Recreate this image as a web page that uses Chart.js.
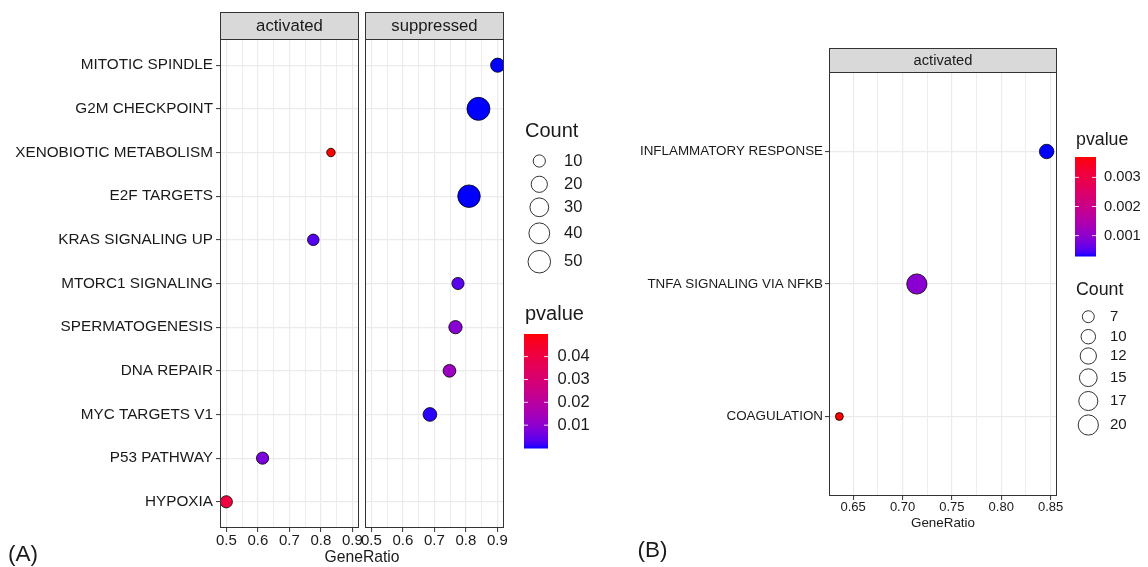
<!DOCTYPE html>
<html>
<head>
<meta charset="utf-8">
<title>Hallmark dotplot</title>
<script src="https://cdn.jsdelivr.net/npm/chart.js@4.4.1/dist/chart.umd.min.js"></script>
<style>
  html, body { margin: 0; padding: 0; background: #fff; }
  #wrap { position: relative; width: 1148px; height: 567px; overflow: hidden; }
  #wrap canvas { position: absolute; left: 0; top: 0; }
</style>
</head>
<body>
<div id="wrap">
  <canvas id="aActivated" width="1148" height="567"></canvas>
  <canvas id="aSuppressed" width="1148" height="567"></canvas>
  <canvas id="bActivated" width="1148" height="567"></canvas>
</div>
<script>
// ---------- panel (A) data, listed top to bottom ----------
const pathwaysA = ['MITOTIC SPINDLE', 'G2M CHECKPOINT', 'XENOBIOTIC METABOLISM', 'E2F TARGETS',
  'KRAS SIGNALING UP', 'MTORC1 SIGNALING', 'SPERMATOGENESIS', 'DNA REPAIR',
  'MYC TARGETS V1', 'P53 PATHWAY', 'HYPOXIA'];
const directionA = ['suppressed', 'suppressed', 'activated', 'suppressed', 'activated', 'suppressed',
  'suppressed', 'suppressed', 'suppressed', 'activated', 'activated'];
const geneRatioA = [0.901, 0.840, 0.832, 0.810, 0.776, 0.775, 0.767, 0.748, 0.686, 0.615, 0.500];
const countA = [14, 53, 7, 50, 9, 10, 12, 11, 13, 10, 10];
const pvalueA = [0.00001, 0.00001, 0.0499, 0.00002, 0.0032, 0.0036, 0.0092, 0.0128, 0.0008, 0.0072, 0.0410];
const facetsA = ['activated', 'suppressed'];
const xTicksA = [0.5, 0.6, 0.7, 0.8, 0.9];
const xTickLabelsA = ['0.5', '0.6', '0.7', '0.8', '0.9'];
const countBreaksA = [10, 20, 30, 40, 50];
const countLabelsA = ['10', '20', '30', '40', '50'];
const pvalueBreaksA = [0.01, 0.02, 0.03, 0.04];
const pvalueLabelsA = ['0.01', '0.02', '0.03', '0.04'];

// ---------- panel (B) data ----------
const pathwaysB = ['INFLAMMATORY RESPONSE', 'TNFA SIGNALING VIA NFKB', 'COAGULATION'];
const directionB = ['activated', 'activated', 'activated'];
const geneRatioB = [0.846, 0.7145, 0.636];
const countB = [10, 20, 6];
const pvalueB = [0.0003, 0.00095, 0.0037];
const xTicksB = [0.65, 0.70, 0.75, 0.80, 0.85];
const xTickLabelsB = ['0.65', '0.70', '0.75', '0.80', '0.85'];
const countBreaksB = [7.5, 10, 12.5, 15, 17.5, 20];
const countLabelsB = ['7', '10', '12', '15', '17', '20'];
const pvalueBreaksB = [0.001, 0.002, 0.003];
const pvalueLabelsB = ['0.001', '0.002', '0.003'];

const W = 1148, H = 567;
const FONT = "'Liberation Sans', Arial, Helvetica, sans-serif";
const INK = '#1a1a1a';

// ---- colour: ggplot style gradient blue -> red, interpolated in Lab ----
const WX = 0.95047, WY = 1.0, WZ = 1.08883;
function toLin(c) { c /= 255; return c <= 0.04045 ? c / 12.92 : Math.pow((c + 0.055) / 1.055, 2.4); }
function fromLin(c) {
  c = c <= 0.0031308 ? 12.92 * c : 1.055 * Math.pow(c, 1 / 2.4) - 0.055;
  return Math.round(Math.max(0, Math.min(1, c)) * 255);
}
function rgb2lab(rgb) {
  const R = toLin(rgb[0]), G = toLin(rgb[1]), B = toLin(rgb[2]);
  const X = (0.4124 * R + 0.3576 * G + 0.1805 * B) / WX;
  const Y = (0.2126 * R + 0.7152 * G + 0.0722 * B) / WY;
  const Z = (0.0193 * R + 0.1192 * G + 0.9505 * B) / WZ;
  const f = t => t > 0.008856 ? Math.cbrt(t) : 7.787 * t + 16 / 116;
  return [116 * f(Y) - 16, 500 * (f(X) - f(Y)), 200 * (f(Y) - f(Z))];
}
function lab2rgb(lab) {
  const fy = (lab[0] + 16) / 116, fx = fy + lab[1] / 500, fz = fy - lab[2] / 200;
  const inv = t => t > 0.206893 ? t * t * t : (t - 16 / 116) / 7.787;
  const X = WX * inv(fx), Y = WY * inv(fy), Z = WZ * inv(fz);
  const R = 3.2406 * X - 1.5372 * Y - 0.4986 * Z;
  const G = -0.9689 * X + 1.8758 * Y + 0.0415 * Z;
  const B = 0.0557 * X - 0.2040 * Y + 1.0570 * Z;
  return 'rgb(' + fromLin(R) + ',' + fromLin(G) + ',' + fromLin(B) + ')';
}
const LOW = rgb2lab([0, 0, 255]), HIGH = rgb2lab([255, 0, 0]);

function colourScale(pvals) {
  const lo = Math.min(...pvals), hi = Math.max(...pvals);
  const f = p => {
    const t = Math.max(0, Math.min(1, (p - lo) / (hi - lo)));
    return lab2rgb(LOW.map((v, i) => v + (HIGH[i] - v) * t));
  };
  f.lo = lo; f.hi = hi;
  return f;
}

// point diameter (px) from Count, area-like like scale_size
function sizeScale(counts, dMin, dMax) {
  const lo = Math.min(...counts), hi = Math.max(...counts);
  return c => dMin + (dMax - dMin) * Math.sqrt(Math.max(0, (c - lo) / (hi - lo)));
}

// 5% expansion on each side, as ggplot does
function expandRange(vals) {
  const lo = Math.min(...vals), hi = Math.max(...vals), e = (hi - lo) * 0.05;
  return [lo - e, hi + e];
}

function label(ctx, str, x, y, size, align) {
  ctx.font = size + 'px ' + FONT;
  ctx.fillStyle = INK;
  ctx.textAlign = align || 'left';
  ctx.textBaseline = 'middle';
  ctx.fillText(str, x, y);
}

function drawCountLegend(ctx, L, size, breaks, labels) {
  label(ctx, 'Count', L.x, L.titleY, L.titleSize);
  breaks.forEach((b, i) => {
    ctx.beginPath();
    ctx.arc(L.keyX, L.keyY[i], size(b) / 2 - 0.4, 0, Math.PI * 2);
    ctx.fillStyle = '#fff';
    ctx.fill();
    ctx.lineWidth = 0.8;
    ctx.strokeStyle = '#000';
    ctx.stroke();
    label(ctx, labels[i], L.labelX, L.keyY[i], L.labelSize);
  });
}

function drawColourbar(ctx, L, colour, breaks, labels) {
  label(ctx, 'pvalue', L.x, L.titleY, L.titleSize);
  const b = L.bar;
  for (let y = b.y0; y < b.y1; y++) {
    const t = 1 - (y + 0.5 - b.y0) / (b.y1 - b.y0);
    ctx.fillStyle = colour(colour.lo + t * (colour.hi - colour.lo));
    ctx.fillRect(b.x0, y, b.x1 - b.x0, 1.5);
  }
  breaks.forEach((v, i) => {
    const y = b.y1 - (v - colour.lo) / (colour.hi - colour.lo) * (b.y1 - b.y0);
    ctx.strokeStyle = 'rgba(255,255,255,0.85)';
    ctx.lineWidth = 1;
    ctx.beginPath();
    ctx.moveTo(b.x0, y); ctx.lineTo(b.x0 + 4, y);
    ctx.moveTo(b.x1 - 4, y); ctx.lineTo(b.x1, y);
    ctx.stroke();
    label(ctx, labels[i], L.labelX, y, L.labelSize);
  });
}

// one facet = one chart on its own transparent canvas
function facetChart(cfg) {
  const idx = cfg.names.map((_, i) => i).filter(i => cfg.groups[i] === cfg.facet);
  const a = cfg.area;
  const step = cfg.xTicks[1] - cfg.xTicks[0];
  const tickVals = [];
  for (let k = -1; k <= 2 * (cfg.xTicks.length - 1) + 1; k++) {
    const v = +(cfg.xTicks[0] + k * step / 2).toFixed(5);
    if (v >= cfg.xRange[0] && v <= cfg.xRange[1]) tickVals.push(v);
  }
  const majorIndex = v => cfg.xTicks.findIndex(m => Math.abs(m - v) < 1e-6);

  return new Chart(document.getElementById(cfg.canvas), {
    type: 'scatter',
    data: {
      datasets: [{
        data: idx.map(i => ({ x: cfg.ratios[i], y: i })),
        pointRadius: c => cfg.size(cfg.counts[idx[c.dataIndex]]) / 2 - 0.4,
        pointBackgroundColor: c => cfg.colour(cfg.pvals[idx[c.dataIndex]]),
        pointBorderColor: '#000',
        pointBorderWidth: 0.8,
        clip: 0
      }]
    },
    options: {
      responsive: false,
      animation: false,
      events: [],
      layout: { padding: { left: 0, top: a.top, right: W - a.right, bottom: 0 } },
      plugins: { legend: { display: false }, tooltip: { enabled: false } },
      scales: {
        x: {
          type: 'linear',
          min: cfg.xRange[0],
          max: cfg.xRange[1],
          afterBuildTicks: s => { s.ticks = tickVals.map(v => ({ value: v })); },
          afterFit: s => { s.height = H - a.bottom; },
          border: { display: false },
          grid: {
            color: '#EBEBEB',
            lineWidth: c => majorIndex(c.tick.value) >= 0 ? 1.2 : 0.9,
            tickLength: 4,
            tickWidth: 1,
            tickColor: c => majorIndex(c.tick.value) >= 0 ? '#333333' : 'rgba(0,0,0,0)'
          },
          ticks: {
            autoSkip: false,
            maxRotation: 0,
            padding: 0,
            color: INK,
            font: { family: FONT, size: cfg.xFont },
            callback: v => { const k = majorIndex(v); return k >= 0 ? cfg.xTickLabels[k] : ''; }
          }
        },
        y: {
          type: 'linear',
          reverse: true,
          min: -0.6,
          max: cfg.names.length - 0.4,
          afterBuildTicks: s => { s.ticks = cfg.names.map((_, i) => ({ value: i })); },
          afterFit: s => { s.width = a.left; },
          border: { display: false },
          grid: {
            color: '#EBEBEB',
            lineWidth: 1.2,
            drawTicks: cfg.showY,
            tickLength: 4,
            tickWidth: 1,
            tickColor: '#333333'
          },
          ticks: {
            display: cfg.showY,
            padding: cfg.yPad,
            color: INK,
            font: { family: FONT, size: cfg.yFont },
            callback: v => cfg.names[v]
          }
        }
      }
    },
    plugins: [{
      id: 'facetFrame',
      afterDraw(chart) {
        const ctx = chart.ctx;
        const ca = chart.chartArea;
        ctx.save();
        // strip
        ctx.fillStyle = '#D9D9D9';
        ctx.fillRect(ca.left, cfg.stripTop, ca.right - ca.left, ca.top - cfg.stripTop);
        ctx.strokeStyle = '#333333';
        ctx.lineWidth = 1;
        ctx.strokeRect(ca.left + 0.5, cfg.stripTop + 0.5, ca.right - ca.left - 1, ca.top - cfg.stripTop);
        label(ctx, cfg.facet, (ca.left + ca.right) / 2, (cfg.stripTop + ca.top) / 2 + 1, cfg.stripFont, 'center');
        // panel border
        ctx.strokeRect(ca.left + 0.5, ca.top + 0.5, ca.right - ca.left - 1, ca.bottom - ca.top - 1);
        if (cfg.extra) cfg.extra(ctx);
        ctx.restore();
      }
    }]
  });
}

// ---------------- panel (A) ----------------
const sizeA = sizeScale(countA, 9.3, 23.8);
const colourA = colourScale(pvalueA);
const xRangeA = expandRange(geneRatioA);
const areasA = {
  activated: { left: 220, right: 359, top: 39, bottom: 528 },
  suppressed: { left: 365, right: 504, top: 39, bottom: 528 }
};

facetsA.forEach((facet, f) => {
  facetChart({
    canvas: f === 0 ? 'aActivated' : 'aSuppressed',
    facet: facet,
    names: pathwaysA, groups: directionA, ratios: geneRatioA, counts: countA, pvals: pvalueA,
    area: areasA[facet], xRange: xRangeA, xTicks: xTicksA, xTickLabels: xTickLabelsA,
    size: sizeA, colour: colourA,
    showY: f === 0, yFont: 15.3, yPad: 3, xFont: 15, stripTop: 12, stripFont: 16.7,
    extra: f === 0
      ? ctx => label(ctx, '(A)', 8, 555, 22.5)
      : ctx => {
          label(ctx, 'GeneRatio', 362, 558, 15.7, 'center');
          drawCountLegend(ctx, {
            x: 525, titleY: 131, titleSize: 20,
            keyX: 539.3, keyY: [161, 184.3, 207.3, 233.3, 261.7], labelX: 564, labelSize: 16.5
          }, sizeA, countBreaksA, countLabelsA);
          drawColourbar(ctx, {
            x: 525, titleY: 314, titleSize: 20,
            bar: { x0: 524, x1: 548, y0: 334, y1: 448 }, labelX: 557.5, labelSize: 16.5
          }, colourA, pvalueBreaksA, pvalueLabelsA);
        }
  });
});

// ---------------- panel (B) ----------------
const sizeB = sizeScale(countB, 8.7, 21);
const colourB = colourScale(pvalueB);
const xRangeB = expandRange(geneRatioB);

facetChart({
  canvas: 'bActivated',
  facet: 'activated',
  names: pathwaysB, groups: directionB, ratios: geneRatioB, counts: countB, pvals: pvalueB,
  area: { left: 829, right: 1057, top: 72, bottom: 496 },
  xRange: xRangeB, xTicks: xTicksB, xTickLabels: xTickLabelsB,
  size: sizeB, colour: colourB,
  showY: true, yFont: 13.4, yPad: 2, xFont: 13, stripTop: 48, stripFont: 14.7,
  extra: ctx => {
    label(ctx, 'GeneRatio', 943, 523.5, 13.4, 'center');
    label(ctx, '(B)', 637.5, 551, 22.5);
    drawColourbar(ctx, {
      x: 1076, titleY: 140, titleSize: 17.8,
      bar: { x0: 1075, x1: 1096, y0: 157, y1: 256 }, labelX: 1104, labelSize: 14.7
    }, colourB, pvalueBreaksB, pvalueLabelsB);
    drawCountLegend(ctx, {
      x: 1076, titleY: 290, titleSize: 17.8,
      keyX: 1088.3, keyY: [316.7, 336.7, 356, 377.7, 401, 425], labelX: 1110, labelSize: 15
    }, sizeB, countBreaksB, countLabelsB);
  }
});
</script>
</body>
</html>
